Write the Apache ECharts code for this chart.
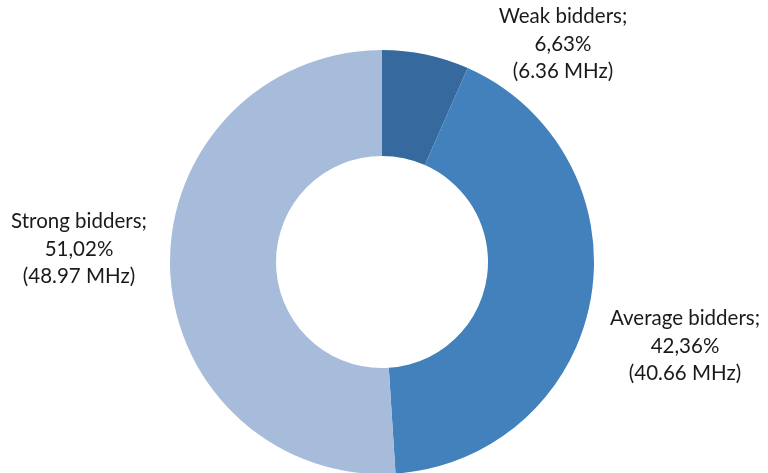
<!DOCTYPE html>
<html><head><meta charset="utf-8">
<script src="https://cdn.jsdelivr.net/npm/echarts@6/dist/echarts.min.js"></script>
<style>html,body{margin:0;padding:0;background:#fff}#c{width:768px;height:473px}</style>
</head><body><div id="c"></div>
<script>
var categories = ['Weak bidders', 'Average bidders', 'Strong bidders'];
var mhz = [6.36, 40.66, 48.97];
var percents = ['6,63%', '42,36%', '51,02%'];
var colors = ['#366A9F', '#4381BD', '#A7BCDA'];
var labelPos = [[563, 44], [685, 346], [79, 249]];

var chart = echarts.init(document.getElementById('c'), null, {renderer: 'canvas'});
chart.setOption({
  animation: false,
  series: [{
    type: 'pie',
    center: [382, 262],
    radius: [106, 212],
    startAngle: 90,
    clockwise: true,
    silent: true,
    itemStyle: {borderWidth: 0},
    data: categories.map(function (c, i) {
      return {name: c, value: mhz[i], itemStyle: {color: colors[i]}};
    }),
    label: {
      show: true,
      position: 'outside',
      formatter: function (p) {
        return p.name + ';\n' + percents[p.dataIndex] + '\n(' + mhz[p.dataIndex].toFixed(2) + ' MHz)';
      },
      fontFamily: 'Lato',
      fontSize: 20.5,
      lineHeight: 27.5,
      color: '#1a1a1a',
      align: 'center',
      overflow: 'none',
      width: 300
    },
    labelLine: {show: false},
    labelLayout: function (params) {
      var p = labelPos[params.dataIndex];
      return {x: p[0], y: p[1], align: 'center', verticalAlign: 'middle'};
    }
  }]
});
</script></body></html>
